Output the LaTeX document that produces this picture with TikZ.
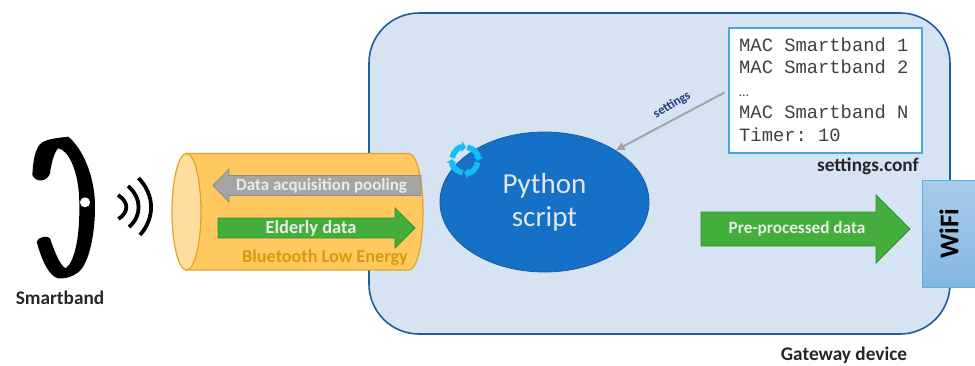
\documentclass[tikz,border=0pt]{standalone}
\usepackage{fontspec}
\setmainfont{Carlito}
\setmonofont{Liberation Mono}
\usetikzlibrary{arrows.meta}
\usetikzlibrary{shapes.geometric}

\definecolor{boxblue}{HTML}{D6E3F3}
\definecolor{boxline}{HTML}{1F5C9E}
\definecolor{scriptblue}{HTML}{1570C8}
\definecolor{confline}{HTML}{4BA5DE}
\definecolor{pipefill}{HTML}{FFC95F}
\definecolor{pipeend}{HTML}{FFDD9E}
\definecolor{pipeline}{HTML}{E0A526}
\definecolor{pipetext}{HTML}{D79A0C}
\definecolor{datagreen}{HTML}{43AE3B}
\definecolor{greenline}{HTML}{338F33}
\definecolor{polygrey}{HTML}{A5A5A5}
\definecolor{polyline}{HTML}{8C8C8C}
\definecolor{wifitop}{HTML}{A8CCEA}
\definecolor{wifibot}{HTML}{84B6E2}
\definecolor{wifiline}{HTML}{5CB0E8}
\definecolor{cycleblue}{HTML}{14BDF5}
\definecolor{labelblue}{HTML}{1F3F7F}

\tikzset{
  caption/.style={font=\fontsize{19.3}{22}\selectfont\bfseries, text=black!85},
  arrowtext/.style={text=white!92!black},
  green arrow/.style={fill=datagreen, draw=greenline, line width=0.8pt},
  wave/.style={line width=3.8pt, black},
  confline/.style={anchor=west, font=\fontsize{18.8}{22}\ttfamily, text=black!75, text height=12pt, text depth=3pt, inner sep=0pt}
}

\begin{document}
\begin{tikzpicture}[x=1pt,y=-1pt]
\useasboundingbox (0,0) rectangle (975,365);

%gateway box
\draw[fill=boxblue, draw=boxline, line width=1.6pt, rounded corners=50pt] (369,13) rectangle (950,334);

%smartband
\fill[black] (36.7,241.7) .. controls (38,237) and (47,235) .. (50,238.3)
  .. controls (54,250) and (60,266) .. (65.7,268.3)
  .. controls (75,262) and (80,235) .. (79.3,203)
  .. controls (79,170) and (68,150) .. (58.3,148.3)
  .. controls (54,152) and (51,165) .. (50,173.3)
  .. controls (47,182) and (36,183) .. (32.3,175)
  .. controls (33,165) and (34,155) .. (36.7,150)
  .. controls (40,141) and (46,139) .. (68.3,136.7)
  .. controls (82,148) and (95,175) .. (95,206.7)
  .. controls (95,240) and (87,268) .. (76.7,273.3)
  .. controls (70,278) and (62,279) .. (58.3,278.3)
  .. controls (50,277) and (42,262) .. (36.7,241.7) -- cycle;
\fill[white] (85,202.3) circle (5);
\draw[wave] (118,195) .. controls (129,202) and (129,212) .. (118.5,219);
\draw[wave] (128,186) .. controls (142,198) and (142,216) .. (129,227);
\draw[wave] (138.5,178) .. controls (155,195) and (155,218) .. (140,235);
\node[caption] (smartband) at (60,297.5) {Smartband};

%bluetooth pipe
\draw[fill=pipefill, draw=pipeline, line width=1.2pt] (186,153.5) -- (409,153.5)
  .. controls (416.7,153.5) and (423,179.6) .. (423,211.75)
  .. controls (423,244) and (416.7,270) .. (409,270) -- (186,270) -- cycle;
\node[ellipse, fill=pipeend, draw=pipeline, line width=1.2pt, minimum width=29pt, minimum height=116.5pt, inner sep=0pt] (pipeleft) at (186.5,211.75) {};

%arrows in the pipe
\draw[fill=polygrey, draw=polyline, line width=0.8pt] (421,175.5) -- (229,175.5) -- (229,169) -- (213,185.5) -- (229,202) -- (229,195.5) -- (421,195.5) -- cycle;
\node[arrowtext, font=\fontsize{17}{20}\selectfont\bfseries] (pooling) at (321.5,185.5) {Data acquisition pooling};
\draw[green arrow] (218,218) -- (395,218) -- (395,208) -- (415,228) -- (395,248) -- (395,238) -- (218,238) -- cycle;
\node[arrowtext, font=\fontsize{18.4}{20}\selectfont\bfseries] (elderly) at (311,228) {Elderly data};
\node[font=\fontsize{18.2}{20}\selectfont\bfseries, text=pipetext] (ble) at (325,257.5) {Bluetooth Low Energy};

%python script
\node[ellipse, fill=scriptblue, draw=boxline, line width=0.8pt, minimum width=209pt, minimum height=140pt, inner sep=0pt, align=center, text=white!90!black, font=\fontsize{29}{34}\selectfont] (script) at (544.5,202) {Python\\[-1pt]script};

%cycle icon
\foreach \a in {10,100,190,280}
\draw[cycleblue, line width=5.6pt, -{Triangle[length=4pt,width=10pt]}] (465,160) ++(\a:13) arc[start angle=\a, end angle=\a+84, radius=13];

%settings file
\node[draw=confline, fill=white, line width=1.4pt, minimum width=193pt, minimum height=125pt, inner sep=0pt] (conf) at (825.5,90.5) {};
\foreach \t/\y/\n in {MAC Smartband 1/47/one, MAC Smartband 2/69/two, MAC Smartband N/114/last, Timer: 10/137/timer}
\node[confline] (line\n) at (739,\y) {\t};
\node[confline, font=\fontsize{14}{20}\selectfont] (linedots) at (739,92) {\ldots};
\node[caption] (conflabel) at (868,166) {settings.conf};
\draw[polygrey, line width=2pt, -{Triangle[length=9pt,width=8pt]}, shorten <=4pt] (conf.west) -- (script.36);
\node[font=\fontsize{12.8}{14}\selectfont\bfseries, text=labelblue, rotate=31, inner sep=0pt] (setlabel) at (672,105) {settings};

%output arrow
\draw[green arrow] (701,212) -- (876,212) -- (876,195) -- (910,229) -- (876,263) -- (876,246) -- (701,246) -- cycle;
\node[arrowtext, font=\fontsize{17.2}{20}\selectfont\bfseries] (outdata) at (797,229) {Pre-processed data};

%wifi
\node[top color=wifitop, bottom color=wifibot, draw=wifiline, line width=1pt, minimum width=54pt, minimum height=107pt, inner sep=0pt] (wifi) at (949.5,233.5) {};
\node[rotate=90, font=\fontsize{27}{32}\selectfont\bfseries, text=black] (wifitext) at (949,233.5) {WiFi};

\node[caption] (gateway) at (844,355) {Gateway device};
\end{tikzpicture}
\end{document}
